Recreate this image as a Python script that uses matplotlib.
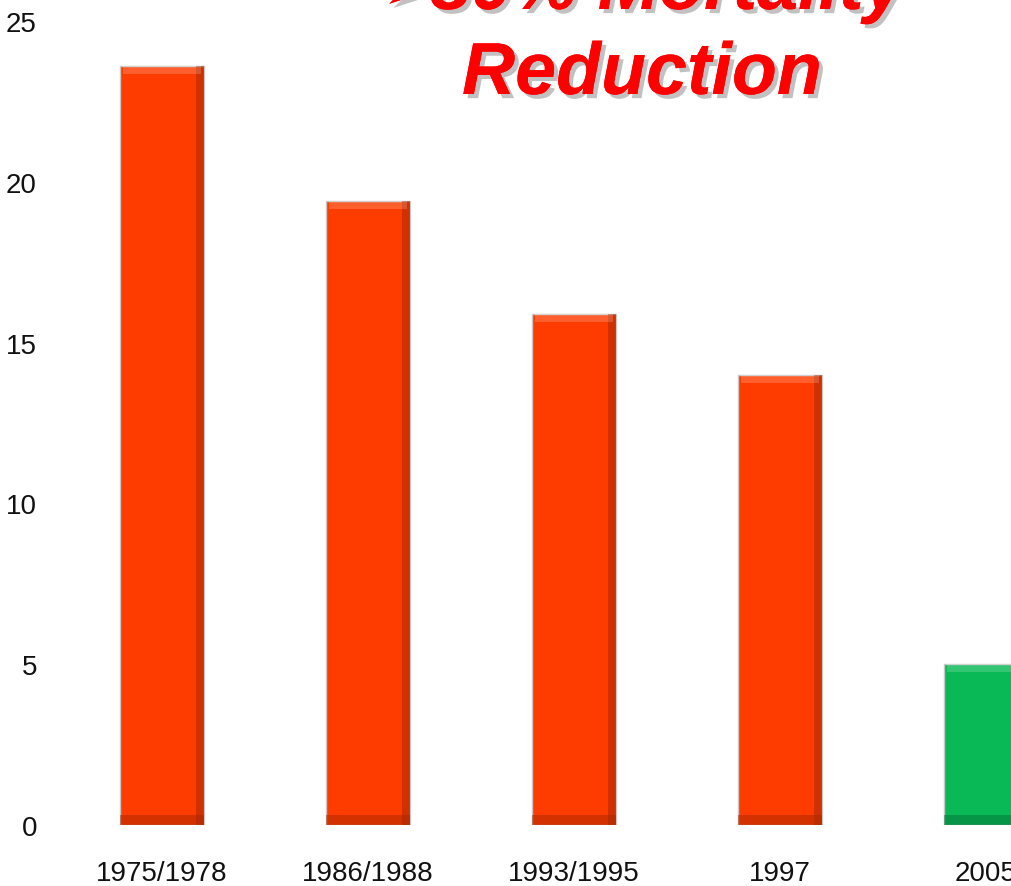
import matplotlib
matplotlib.use("Agg")
import matplotlib.pyplot as plt
import matplotlib.patheffects as pe
from matplotlib import font_manager

# data
periods = ["1975/1978", "1986/1988", "1993/1995", "1997", "2005"]
mortality = [23.6, 19.4, 15.9, 14.0, 5.0]
bar_colors = ["#FF3C00", "#FF3C00", "#FF3C00", "#FF3C00", "#08B955"]
edge_colors = ["#A82800", "#A82800", "#A82800", "#A82800", "#06713A"]
yticks = [0, 5, 10, 15, 20, 25]

names = {f.name for f in font_manager.fontManager.ttflist}
narrow = "Liberation Sans Narrow" if "Liberation Sans Narrow" in names else "Liberation Sans"

fig = plt.figure(figsize=(10.12, 8.87), dpi=100)
ax = fig.add_axes([48 / 1012, 1 - 826 / 887, 1 - 48 / 1012, 826 / 887])

x = range(len(periods))
w = 0.41
ax.bar(x, mortality, width=w, color=bar_colors, edgecolor="#C8C8C8", linewidth=1.0, zorder=2)
# darker bevel on the right side and along the bottom
ax.bar([i + w / 2 - 0.02 for i in x], mortality, width=0.04, color=edge_colors,
       linewidth=0, alpha=0.55, zorder=3)
ax.bar(x, [0.3] * len(periods), width=w, color=edge_colors, linewidth=0, alpha=0.5, zorder=3)
# light strip at the top
ax.bar(x, [0.25] * len(periods), bottom=[m - 0.25 for m in mortality], width=w - 0.03,
       color="white", alpha=0.18, linewidth=0, zorder=3)

ax.set_xlim(-0.553, 4.126)
ax.set_ylim(0, 25.68)
ax.set_yticks(yticks)
ax.set_xticks(list(x))
ax.set_xticklabels(periods)
for s in ax.spines.values():
    s.set_visible(False)
ax.tick_params(axis="both", length=0, labelsize=20)
ax.tick_params(axis="x", pad=25)
ax.tick_params(axis="y", pad=8)
for lab in ax.get_xticklabels() + ax.get_yticklabels():
    lab.set_family([narrow, "DejaVu Sans"])
    lab.set_color("#111111")

shadow = [pe.withSimplePatchShadow(offset=(3, -3), shadow_rgbFace="#777777", alpha=0.45), pe.Normal()]
fig.text(383 / 1012, 1 - 10 / 887, "➢", color="#FF0000", fontsize=40,
         family=["DejaVu Sans"], ha="left", va="baseline", path_effects=shadow)
fig.text(430 / 1012, 1 - 10 / 887, "80% Mortality", color="#FF0000", fontsize=53,
         fontweight="bold", style="italic", family=["Liberation Sans", "DejaVu Sans"],
         ha="left", va="baseline", path_effects=shadow)
fig.text(462 / 1012, 1 - 95 / 887, "Reduction", color="#FF0000", fontsize=53,
         fontweight="bold", style="italic", family=["Liberation Sans", "DejaVu Sans"],
         ha="left", va="baseline", path_effects=shadow)

fig.savefig("out.png", dpi=100)
